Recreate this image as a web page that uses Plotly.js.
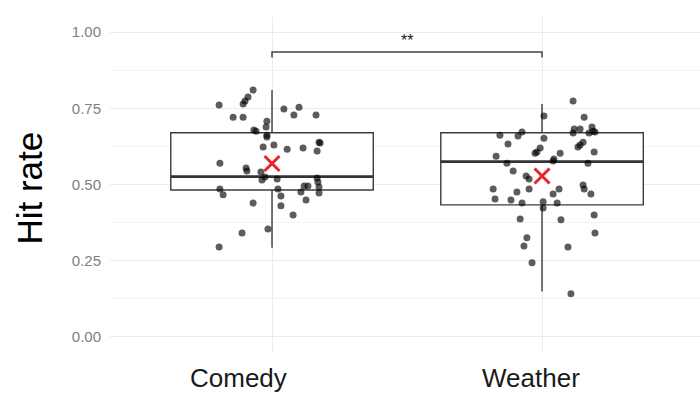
<!DOCTYPE html>
<html>
<head>
<meta charset="utf-8">
<script src="https://cdn.plot.ly/plotly-3.0.1.min.js"></script>
<style>html,body{margin:0;padding:0;background:#fff;}#chart{width:700px;height:413px;}</style>
</head>
<body>
<div id="chart"></div>
<script>
// ---- data ----
const categories = ["Comedy", "Weather"];
const categoryPos = [0, 1];

// box statistics
const boxLower  = [0.292, 0.149];
const boxQ1     = [0.482, 0.433];
const boxMedian = [0.526, 0.575];
const boxQ3     = [0.670, 0.670];
const boxUpper  = [0.810, 0.764];
const groupMean = [0.569, 0.528];

// jittered points: value and horizontal jitter (category units)
const comedyValues = [0.810,0.787,0.774,0.764,0.761,0.748,0.754,0.728,0.728,0.721,0.721,0.708,0.689,0.679,0.675,0.662,0.656,0.639,0.636,0.623,0.630,0.616,0.620,0.610,0.570,0.554,0.544,0.541,0.525,0.515,0.518,0.521,0.508,0.485,0.466,0.485,0.462,0.495,0.495,0.492,0.472,0.475,0.449,0.439,0.430,0.400,0.341,0.354,0.295];
const comedyJitter = [-0.070,-0.089,-0.100,-0.107,-0.196,0.044,0.100,0.081,0.163,-0.144,-0.107,-0.019,-0.022,-0.067,-0.059,-0.019,-0.019,0.174,0.178,-0.033,0.007,0.056,0.115,0.167,-0.193,-0.096,-0.093,-0.041,-0.026,-0.037,0.019,0.167,0.170,-0.193,-0.181,0.022,0.033,0.119,0.133,0.174,0.174,0.107,0.126,-0.070,0.033,0.078,-0.111,-0.015,-0.196];
const weatherValues = [0.774,0.725,0.721,0.682,0.682,0.669,0.689,0.675,0.669,0.672,0.672,0.659,0.662,0.652,0.639,0.630,0.623,0.633,0.620,0.607,0.603,0.603,0.607,0.593,0.584,0.577,0.570,0.570,0.544,0.528,0.518,0.485,0.452,0.449,0.475,0.485,0.439,0.485,0.469,0.439,0.498,0.485,0.469,0.443,0.423,0.387,0.384,0.400,0.325,0.298,0.341,0.295,0.243,0.141];
const weatherJitter = [0.115,0.007,0.156,0.119,0.141,0.115,0.185,0.189,0.174,0.196,-0.074,-0.089,-0.156,0.007,0.152,0.141,0.133,-0.126,-0.007,-0.019,-0.026,0.067,0.193,-0.170,0.044,0.041,-0.130,0.170,-0.107,-0.059,-0.048,-0.181,-0.174,-0.115,-0.093,-0.048,-0.074,0.063,0.041,0.056,0.152,0.156,0.181,0.004,0.004,-0.081,0.070,0.193,-0.056,-0.067,0.196,0.096,-0.037,0.107];

// significance bracket
const bracketFrom = 0, bracketTo = 1;
const bracketTop = 0.935, bracketTip = 0.917;
const sigLabel = "**";
const sigLabelY = 0.972;

const yTicks = [0, 0.25, 0.5, 0.75, 1.0];
const yTickText = ["0.00", "0.25", "0.50", "0.75", "1.00"];
const yTitle = "Hit rate";

// ---- styling ----
const boxWidth = 0.75;
const xLabelShift = [-0.125, -0.04];   // category labels sit slightly left of their boxes

// ---- traces ----
const traces = [];

categoryPos.forEach((p, i) => {
  traces.push({
    type: "box",
    x: [p],
    q1: [boxQ1[i]], median: [boxMedian[i]], q3: [boxQ3[i]],
    lowerfence: [boxLower[i]], upperfence: [boxUpper[i]],
    width: boxWidth,
    whiskerwidth: 0,
    boxpoints: false,
    fillcolor: "#ffffff",
    line: {color: "#3c3c3c", width: 1.4},
    showlegend: false, hoverinfo: "skip"
  });
  // thicker median line (ggplot style)
  traces.push({
    type: "scatter", mode: "lines",
    x: [p - boxWidth / 2, p + boxWidth / 2],
    y: [boxMedian[i], boxMedian[i]],
    line: {color: "#333333", width: 2.6},
    showlegend: false, hoverinfo: "skip"
  });
});

const groups = [[comedyValues, comedyJitter], [weatherValues, weatherJitter]];
groups.forEach((g, i) => {
  traces.push({
    type: "scatter", mode: "markers",
    x: g[1].map(j => categoryPos[i] + j),
    y: g[0],
    marker: {color: "rgba(0,0,0,0.64)", size: 7, line: {width: 0}},
    showlegend: false, hoverinfo: "skip"
  });
});

traces.push({
  type: "scatter", mode: "markers",
  x: categoryPos, y: groupMean,
  marker: {symbol: "x-thin", size: 15, line: {color: "#e8262a", width: 3}, color: "#e8262a"},
  showlegend: false, hoverinfo: "skip"
});

traces.push({
  type: "scatter", mode: "lines",
  x: [bracketFrom, bracketFrom, bracketTo, bracketTo],
  y: [bracketTip, bracketTop, bracketTop, bracketTip],
  line: {color: "#444444", width: 1.5},
  showlegend: false, hoverinfo: "skip"
});

const annotations = [
  {
    text: yTitle, xref: "paper", yref: "paper", x: -0.136, y: 0.49,
    xanchor: "center", yanchor: "middle", textangle: -90, showarrow: false,
    font: {size: 35, color: "#000000"}
  },
  {
    text: sigLabel, xref: "x", yref: "y", x: (bracketFrom + bracketTo) / 2, y: sigLabelY,
    xanchor: "center", yanchor: "middle", showarrow: false,
    font: {size: 16, color: "#222222"}
  }
];
categories.forEach((c, i) => {
  annotations.push({
    text: c, xref: "x", yref: "paper", x: categoryPos[i] + xLabelShift[i], y: -0.078,
    xanchor: "center", yanchor: "middle", showarrow: false,
    font: {size: 26, color: "#1a1a1a"}
  });
});

const layout = {
  width: 700, height: 413,
  margin: {l: 110, r: 0, t: 17, b: 61},
  paper_bgcolor: "#ffffff", plot_bgcolor: "#ffffff",
  font: {family: "Liberation Sans, Arial, sans-serif"},
  xaxis: {
    range: [-0.6, 1.585],
    tickvals: categoryPos, ticktext: categories,
    showticklabels: false,
    showgrid: true, gridcolor: "#ebebeb", gridwidth: 1,
    zeroline: false, showline: false, ticks: ""
  },
  yaxis: {
    range: [-0.05, 1.05],
    tickvals: yTicks, ticktext: yTickText,
    showgrid: true, gridcolor: "#ebebeb", gridwidth: 1,
    minor: {dtick: 0.125, tick0: 0, showgrid: true, gridcolor: "#f3f3f3", gridwidth: 1},
    zeroline: false, showline: false,
    ticks: "outside", ticklen: 5, tickcolor: "rgba(0,0,0,0)",
    tickfont: {size: 15, color: "#808080"}
  },
  annotations: annotations
};

Plotly.newPlot("chart", traces, layout, {staticPlot: true, displayModeBar: false});
</script>
</body>
</html>
